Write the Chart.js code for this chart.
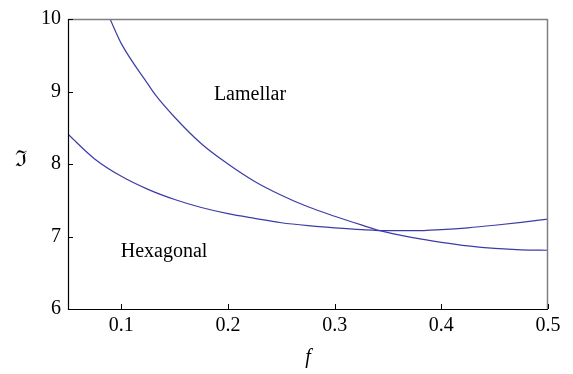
<!DOCTYPE html>
<html>
<head>
<meta charset="utf-8">
<script src="https://cdn.jsdelivr.net/npm/chart.js@4/dist/chart.umd.min.js"></script>
</head>
<body style="margin:0;background:#fff">
<canvas id="c" width="573" height="374"></canvas>
<script>
// ---- data ----
const lamellarF = [0.0894, 0.1, 0.1253, 0.1316, 0.15, 0.175, 0.2, 0.225, 0.25, 0.275, 0.3, 0.325, 0.3425, 0.375, 0.4, 0.425, 0.45, 0.475, 0.5];
const lamellarY = [10.0, 9.66, 9.095, 8.96, 8.645, 8.28, 8.0, 7.76, 7.57, 7.41, 7.28, 7.16, 7.08, 6.98, 6.92, 6.87, 6.835, 6.815, 6.81];
const hexagonalF = [0.05, 0.075, 0.1, 0.125, 0.15, 0.175, 0.2, 0.225, 0.25, 0.275, 0.3, 0.325, 0.35, 0.375, 0.4, 0.425, 0.45, 0.475, 0.5];
const hexagonalY = [8.41, 8.07, 7.83, 7.65, 7.51, 7.40, 7.315, 7.25, 7.19, 7.15, 7.12, 7.095, 7.08, 7.08, 7.095, 7.12, 7.155, 7.195, 7.24];
const xTicks = [0.1, 0.2, 0.3, 0.4, 0.5];
const yTicks = [6, 7, 8, 9, 10];
const regionLabels = ["Lamellar", "Hexagonal"];
const regionLabelF = [0.2206, 0.14];
const regionLabelY = [8.96, 6.79];
const xTitle = "f";
const yTitle = "\u2111";

const FONT = "'Liberation Serif'";
const LINE = "#3c3ca8";

const toPts = (xs, ys) => xs.map((x, i) => ({x: x, y: ys[i]}));

const framePlugin = {
  id: 'frame',
  afterDraw(chart) {
    const ctx = chart.ctx, a = chart.chartArea;
    const xs = chart.scales.x, ys = chart.scales.y;
    ctx.save();
    ctx.strokeStyle = '#808080';
    ctx.lineWidth = 1.5;
    ctx.beginPath();
    ctx.moveTo(a.left, a.top + 0.5); ctx.lineTo(a.right, a.top + 0.5);
    ctx.moveTo(a.right - 0.5, a.top); ctx.lineTo(a.right - 0.5, a.bottom);
    ctx.stroke();
    ctx.strokeStyle = '#000';
    ctx.lineWidth = 1.2;
    ctx.beginPath();
    ctx.moveTo(a.left + 0.5, a.top); ctx.lineTo(a.left + 0.5, a.bottom + 0.5);
    ctx.lineTo(a.right, a.bottom + 0.5);
    ctx.stroke();
    ctx.lineWidth = 1;
    ctx.beginPath();
    xTicks.forEach(v => {
      const px = Math.round(xs.getPixelForValue(v)) + 0.5;
      ctx.moveTo(px, a.bottom); ctx.lineTo(px, a.bottom - 5);
    });
    yTicks.forEach(v => {
      const py = Math.round(ys.getPixelForValue(v)) + 0.5;
      ctx.moveTo(a.left, py); ctx.lineTo(a.left + 5, py);
    });
    ctx.stroke();
    ctx.fillStyle = '#000';
    ctx.font = "20px 'Liberation Serif'";
    ctx.textAlign = 'center';
    ctx.textBaseline = 'middle';
    regionLabels.forEach((t, i) => {
      ctx.fillText(t, xs.getPixelForValue(regionLabelF[i]), ys.getPixelForValue(regionLabelY[i]));
    });
    ctx.font = "22px 'DejaVu Serif'";
    ctx.fillText(yTitle, 21, 160);
    ctx.restore();
  }
};

const chart = new Chart(document.getElementById('c'), {
  type: 'scatter',
  data: {
    datasets: [
      {label: 'Lamellar', data: toPts(lamellarF, lamellarY), showLine: true, borderColor: LINE, borderWidth: 1.2, pointRadius: 0, cubicInterpolationMode: 'monotone', fill: false},
      {label: 'Hexagonal', data: toPts(hexagonalF, hexagonalY), showLine: true, borderColor: LINE, borderWidth: 1.2, pointRadius: 0, cubicInterpolationMode: 'monotone', fill: false}
    ]
  },
  options: {
    responsive: false,
    animation: false,
    devicePixelRatio: 1,
    layout: {padding: {left: 0, right: 25, top: 13, bottom: 0}},
    plugins: {legend: {display: false}, tooltip: {enabled: false}},
    scales: {
      x: {
        type: 'linear', min: 0.05, max: 0.5,
        afterBuildTicks: s => { s.ticks = xTicks.map(v => ({value: v})); },
        afterFit: s => { s.height = 65; },
        border: {display: false},
        grid: {display: false, drawTicks: false},
        ticks: {color: '#000', font: {family: FONT, size: 20}, padding: 5, maxRotation: 0,
                callback: v => String(v)},
        title: {display: true, text: xTitle, color: '#000', font: {family: FONT, size: 20, style: 'italic'}, padding: {top: 0, bottom: 4}}
      },
      y: {
        type: 'linear', min: 6, max: 10,
        afterBuildTicks: s => { s.ticks = yTicks.map(v => ({value: v})); },
        afterFit: s => { s.width = 68; },
        border: {display: false},
        grid: {display: false, drawTicks: false},
        ticks: {color: '#000', font: {family: FONT, size: 20}, padding: 7}
      }
    }
  },
  plugins: [framePlugin]
});
if (document.fonts && document.fonts.ready) document.fonts.ready.then(() => chart.update('none'));
setTimeout(() => chart.update('none'), 50);
</script>
</body>
</html>
